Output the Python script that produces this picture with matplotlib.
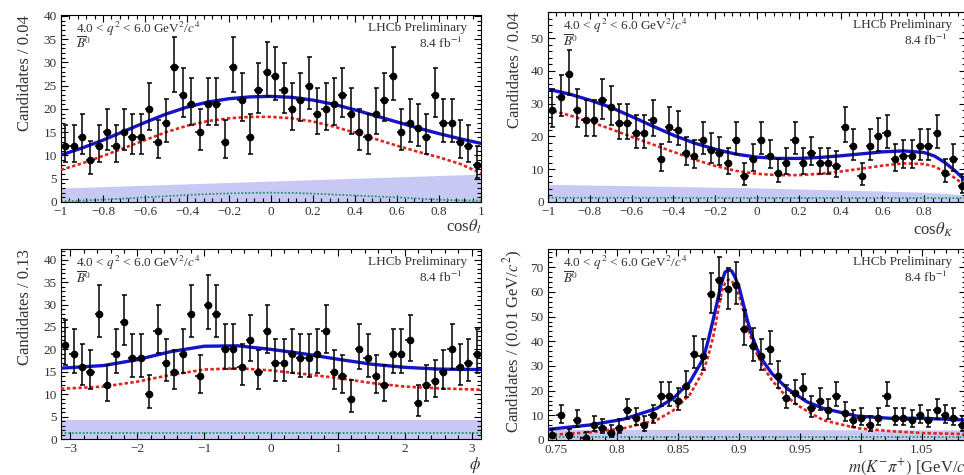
import numpy as np
import matplotlib.pyplot as plt
from matplotlib.ticker import MultipleLocator, FuncFormatter

plt.rcParams['font.family'] = ['Liberation Serif', 'DejaVu Serif']
plt.rcParams['mathtext.fontset'] = 'stix'

# candidates per bin, 50 bins in each projection
ctl_counts = [12, 12, 14, 9, 12, 15, 12, 15, 14, 14,
              20, 13, 17, 29, 23, 21, 15, 21, 21, 13,
              29, 22, 14, 24, 28, 27, 24, 20, 22, 25,
              19, 20, 21, 23, 19, 15, 14, 19, 22, 27,
              15, 17, 16, 14, 23, 17, 17, 13, 12, 8]
ctk_counts = [28, 32, 39, 28, 25, 25, 31, 29, 24, 24,
              21, 21, 25, 13, 23, 22, 15, 14, 19, 16,
              15, 12, 19, 8, 13, 19, 14, 9, 12, 19,
              12, 15, 12, 12, 11, 23, 17, 8, 17, 20,
              21, 13, 14, 14, 17, 17, 21, 9, 13, 5]
phi_counts = [21, 19, 16, 15, 28, 12, 19, 26, 18, 18,
              10, 24, 17, 15, 19, 28, 14, 30, 28, 20,
              20, 16, 22, 15, 24, 17, 17, 19, 18, 18,
              19, 24, 15, 14, 9, 20, 18, 14, 12, 19,
              19, 22, 8, 12, 13, 15, 20, 16, 17, 19]
mkpi_counts = [2, 10, 2, 8, 1, 6, 5, 3, 5, 12,
               9, 6, 10, 18, 18, 16, 22, 35, 34, 59,
               65, 61, 63, 45, 38, 34, 37, 26, 17, 19,
               21, 13, 16, 12, 18, 11, 8, 9, 6, 9,
               18, 9, 9, 8, 10, 8, 12, 10, 9, 6]

ctl_range = (-1.0, 1.0)
ctk_range = (-1.0, 1.0)
phi_range = (-np.pi, np.pi)
mkpi_range = (0.7436, 1.0865)

# fit projections: total pdf (blue), signal (red dashed)
ctl_fx = [-1.0, -0.9, -0.8, -0.7, -0.6, -0.5, -0.4, -0.3, -0.2, -0.1, 0.0,
          0.1, 0.2, 0.3, 0.4, 0.5, 0.6, 0.7, 0.8, 0.9, 1.0]
ctl_total = [10.1, 11.6, 13.3, 15.2, 17.1, 18.9, 20.4, 21.5, 22.2, 22.6, 22.7,
             22.5, 21.9, 21.0, 19.8, 18.5, 17.2, 15.9, 14.7, 13.6, 12.6]
ctl_sig = [6.9, 8.3, 9.9, 11.6, 13.3, 15.0, 16.4, 17.4, 18.0, 18.3, 18.3,
           18.0, 17.3, 16.2, 14.9, 13.5, 12.1, 10.8, 9.6, 8.2, 6.2]
ctl_green = [0.1, 0.3, 0.5, 0.75, 1.0, 1.25, 1.5, 1.7, 1.85, 1.95, 2.0,
             1.95, 1.8, 1.6, 1.4, 1.2, 1.0, 0.75, 0.5, 0.35, 0.3]
ctl_band_x = [-1.0, 1.0]
ctl_band = [3.0, 6.0]

ctk_fx = [-1.0, -0.9, -0.8, -0.7, -0.6, -0.5, -0.4, -0.3, -0.2, -0.1, 0.0,
          0.1, 0.2, 0.3, 0.4, 0.5, 0.6, 0.7, 0.8, 0.85, 0.9, 0.95, 1.0]
ctk_total = [34.4, 33.0, 31.1, 28.9, 26.1, 23.2, 20.4, 18.0, 16.1, 14.6, 13.7,
             13.3, 13.3, 13.6, 14.1, 14.7, 15.3, 15.6, 15.1, 14.0, 12.0, 9.4, 6.3]
ctk_sig = [28.2, 26.5, 24.5, 22.3, 19.9, 17.6, 15.3, 13.0, 11.0, 9.5, 8.6,
           8.2, 8.2, 8.6, 9.3, 10.2, 11.1, 11.8, 11.6, 10.8, 9.2, 7.2, 4.8]
ctk_green_x = [-1.0, 1.0]
ctk_green = [1.3, 1.2]
ctk_band_x = [-1.0, 0.0, 0.8, 1.0]
ctk_band = [5.4, 4.3, 3.0, 2.2]

phi_fx = [-np.pi, -2.5, -2.0, -1.5, -1.0, -0.5, 0.0, 0.5, 1.0, 1.5, 2.0, 2.5, np.pi]
phi_total = [15.8, 16.4, 17.7, 19.5, 20.7, 20.8, 20.0, 19.0, 17.8, 16.7, 16.0, 15.6, 15.5]
phi_sig = [11.2, 11.7, 12.8, 14.3, 15.5, 15.8, 15.3, 14.5, 13.6, 12.5, 11.7, 11.3, 11.0]
phi_green_x = [-np.pi, np.pi]
phi_green = [1.3, 1.3]
phi_band_x = [-np.pi, np.pi]
phi_band = [4.3, 4.3]

mkpi_fx = [0.7436, 0.7781, 0.8054, 0.8328, 0.8464, 0.8601, 0.8710, 0.8751, 0.8792, 0.8861,
           0.8888, 0.8916, 0.8943, 0.8970, 0.9006, 0.9039, 0.9071, 0.9107, 0.9148, 0.9203,
           0.9272, 0.9340, 0.9408, 0.9477, 0.9559, 0.9695, 0.9969, 1.0242, 1.0515, 1.0865]
mkpi_total = [4.3, 6.1, 8.4, 12.8, 16.9, 23.6, 33.0, 40.5, 49.0, 64.0,
              68.0, 69.0, 68.5, 66.0, 61.5, 55.0, 48.6, 42.6, 37.2, 31.8,
              27.0, 23.6, 20.5, 18.2, 15.5, 12.8, 9.7, 8.8, 8.8, 8.1]
mkpi_sig = [2.0, 3.1, 4.7, 8.1, 12.0, 18.5, 28.0, 34.0, 42.0, 60.0,
            63.5, 65.0, 64.5, 62.3, 58.1, 52.5, 46.5, 40.5, 35.0, 29.5,
            24.3, 20.3, 17.0, 14.3, 11.8, 8.0, 4.8, 3.6, 2.8, 2.4]
mkpi_green_x = [0.7436, 1.0865]
mkpi_green = [1.35, 1.35]
mkpi_band_x = [0.7436, 1.0865]
mkpi_band = [4.3, 4.1]

W, H = 964, 475
fig = plt.figure(figsize=(W / 100, H / 100), dpi=100)


def rect(left, top, right, bottom):
    return [left / W, 1 - bottom / H, (right - left) / W, (bottom - top) / H]


fmt = FuncFormatter(lambda v, p: ('%g' % round(v, 6)).replace('-', '\u2212'))


def panel(r, counts, xr, fx, total, sig, gx, green, bx, band, ylim,
          xticks, yticks, xlabel, ylabel, xlab_pos, ylab_x):
    ax = fig.add_axes(r)
    edges = np.linspace(xr[0], xr[1], len(counts) + 1)
    centers = 0.5 * (edges[1:] + edges[:-1])
    half = 0.5 * (edges[1] - edges[0])
    n = np.array(counts, dtype=float)
    up = np.sqrt(n + 0.75) + 1.0
    lo = n - n * (1 - 1 / (9 * n) - 1 / (3 * np.sqrt(n))) ** 3

    ax.fill_between(bx, 0, band, color='#c8c8f5', lw=0, zorder=1)
    ax.plot(gx, green, color='#1f9a60', lw=1.3, ls=(0, (1, 1)), zorder=2)
    ax.plot(fx, sig, color='#e3221c', lw=1.9, ls=(0, (1.3, 0.9)), zorder=3)
    ax.plot(fx, total, color='#1414c8', lw=2.4, zorder=4)
    ax.errorbar(centers, n, xerr=half, fmt='none', ecolor='k', elinewidth=1.1, zorder=5)
    ax.errorbar(centers, n, yerr=[lo, up], fmt='o', color='k', ms=4.5,
                elinewidth=1.1, capsize=1.8, capthick=1.1, zorder=6)

    ax.set_xlim(xr)
    ax.set_ylim(ylim)
    ax.xaxis.set_major_locator(MultipleLocator(xticks[0]))
    ax.xaxis.set_minor_locator(MultipleLocator(xticks[1]))
    ax.yaxis.set_major_locator(MultipleLocator(yticks[0]))
    ax.yaxis.set_minor_locator(MultipleLocator(yticks[1]))
    ax.xaxis.set_major_formatter(fmt)
    ax.yaxis.set_major_formatter(fmt)
    ax.tick_params(which='both', direction='in', top=True, right=True,
                   labelsize=9.5, labelcolor='#333333', pad=3, width=0.8)
    ax.tick_params(which='major', length=5)
    ax.tick_params(which='minor', length=2.8)
    for s in ax.spines.values():
        s.set_linewidth(0.8)

    lab = ax.set_xlabel(xlabel, fontsize=12, color='#333333')
    lab.set_ha(xlab_pos[2])
    lab.set_va('top')
    ax.xaxis.set_label_coords(xlab_pos[0], xlab_pos[1])
    ax.set_ylabel(ylabel, fontsize=12, color='#333333', loc='top')
    ax.yaxis.set_label_coords(ylab_x, 1.0)

    tk = dict(transform=ax.transAxes, fontsize=9.5, color='#333333', va='center')
    ax.text(0.035, 0.928, r'4.0 < $q^2$ < 6.0 GeV$^2$/$c^4$', ha='left', **tk)
    ax.text(0.035, 0.845, r'$\overline{B}^0$', ha='left', **tk)
    ax.text(0.967, 0.93, 'LHCb Preliminary', ha='right', **tk)
    ax.text(0.955, 0.85, r'8.4 fb$^{-1}$', ha='right', **tk)
    return ax


panel(rect(61, 15, 481, 202), ctl_counts, ctl_range, ctl_fx, ctl_total, ctl_sig,
      ctl_fx, ctl_green, ctl_band_x, ctl_band, (0, 40.2), (0.2, 0.04), (5, 1),
      r'cos$\theta_l$', 'Candidates / 0.04', (1.0, -0.085, 'right'), -0.067)

panel(rect(548, 12, 966, 202), ctk_counts, ctk_range, ctk_fx, ctk_total, ctk_sig,
      ctk_green_x, ctk_green, ctk_band_x, ctk_band, (0, 58), (0.2, 0.04), (10, 2),
      r'cos$\theta_K$', 'Candidates / 0.04', (0.873, -0.1, 'left'), -0.06)

panel(rect(61, 249, 481, 439), phi_counts, phi_range, phi_fx, phi_total, phi_sig,
      phi_green_x, phi_green, phi_band_x, phi_band, (0, 42.4), (1, 0.2), (5, 1),
      r'$\phi$', 'Candidates / 0.13', (1.0, -0.082, 'right'), -0.067)

panel(rect(548, 249, 966, 440), mkpi_counts, mkpi_range, mkpi_fx, mkpi_total, mkpi_sig,
      mkpi_green_x, mkpi_green, mkpi_band_x, mkpi_band, (0, 77.4), (0.05, 0.01), (10, 2),
      r'$m(K^{-}\pi^{+})$ [GeV/$c^2$]', r'Candidates / (0.01 GeV/$c^2$)',
      (0.718, -0.082, 'left'), -0.055)

fig.savefig('out.png', dpi=100)
